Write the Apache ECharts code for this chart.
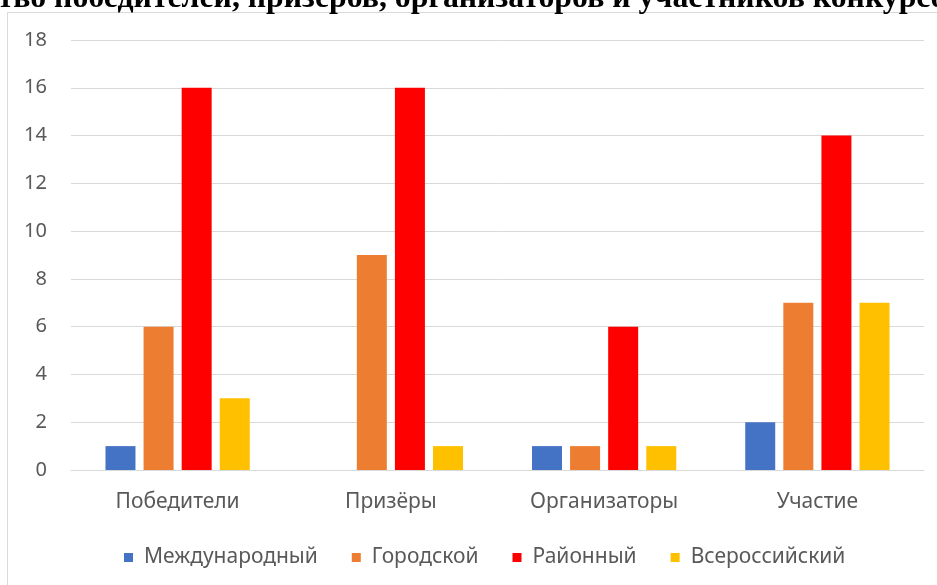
<!DOCTYPE html>
<html>
<head>
<meta charset="utf-8">
<script src="https://cdn.jsdelivr.net/npm/echarts@6/dist/echarts.min.js"></script>
<style>
  html, body { margin: 0; padding: 0; background: #fff; }
  #chart { width: 937px; height: 585px; }
</style>
</head>
<body>
<div id="chart"></div>
<script>
var titleText = 'Количество победителей, призеров, организаторов и участников конкурсов';
var categories = ['Победители', 'Призёры', 'Организаторы', 'Участие'];
var seriesNames = ['Международный', 'Городской', 'Районный', 'Всероссийский'];
var colors = ['#4472C4', '#ED7D31', '#FF0000', '#FFC000'];
var international = [1, 0, 1, 2];
var city = [6, 9, 1, 7];
var district = [16, 16, 6, 14];
var allRussian = [3, 1, 1, 7];
var values = [international, city, district, allRussian];

var myChart = echarts.init(document.getElementById('chart'));

var series = [];
for (var i = 0; i < seriesNames.length; i++) {
    series.push({
        name: seriesNames[i],
        type: 'bar',
        data: values[i],
        barWidth: 30,
        barGap: '27%',
        itemStyle: { color: colors[i] }
    });
}

var option = {
    animation: false,
    color: colors,
    graphic: [
        {
            type: 'rect',
            shape: { x: 7.5, y: 12.5, width: 1000, height: 1000 },
            style: { fill: 'none', stroke: '#d9d9d9', lineWidth: 1 },
            silent: true
        },
        {
            type: 'text',
            left: -122,
            top: -17,
            style: {
                text: titleText,
                font: 'bold 31.8px "Liberation Serif"',
                fill: '#000'
            }
        }
    ],
    legend: {
        top: 542,
        left: 119,
        itemWidth: 9,
        itemHeight: 9,
        itemGap: 34,
        icon: 'rect',
        textStyle: { color: '#595959', fontSize: 21, fontFamily: 'Noto Sans', padding: [0, 0, 0, 6] },
        data: seriesNames
    },
    grid: { left: 71, right: 13, top: 40, bottom: 115 },
    xAxis: {
        type: 'category',
        data: categories,
        axisLine: { lineStyle: { color: '#d9d9d9' } },
        axisTick: { show: false },
        axisLabel: { color: '#595959', fontSize: 21, fontFamily: 'Noto Sans', margin: 22 }
    },
    yAxis: {
        type: 'value',
        min: 0,
        max: 18,
        interval: 2,
        axisLine: { show: false },
        axisTick: { show: false },
        splitLine: { lineStyle: { color: '#d9d9d9' } },
        axisLabel: { color: '#595959', fontSize: 20, fontFamily: 'Noto Sans', margin: 24 }
    },
    series: series
};

myChart.setOption(option);
</script>
</body>
</html>
